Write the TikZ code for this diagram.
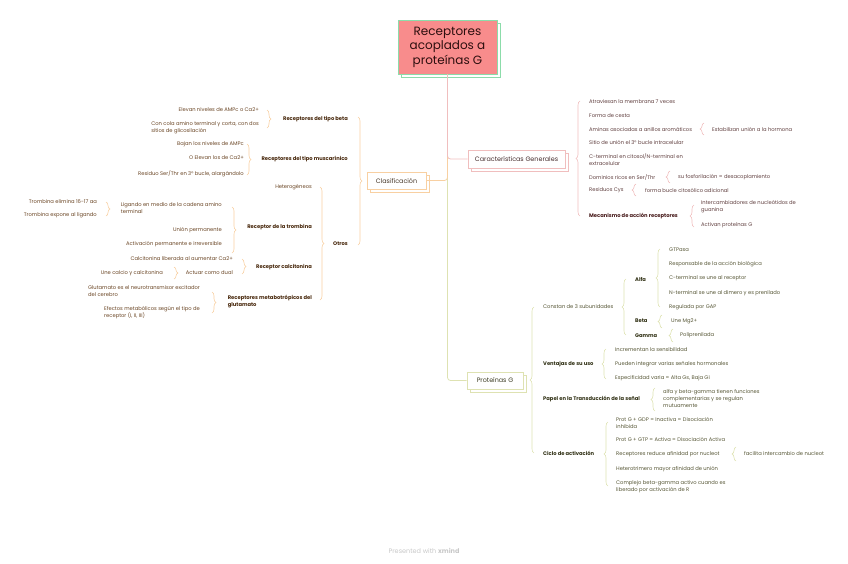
\documentclass[tikz,border=0pt]{standalone}
\usepackage{fontspec}
\setmainfont{Poppins}
\usetikzlibrary{decorations.pathreplacing}
\definecolor{orbr}{RGB}{248,208,162}
\definecolor{pkbr}{RGB}{240,190,190}
\definecolor{olbr}{RGB}{222,226,178}
\definecolor{ortx}{RGB}{105,68,35}
\definecolor{orbd}{RGB}{70,38,10}
\definecolor{pktx}{RGB}{95,62,62}
\definecolor{pkbd}{RGB}{70,25,25}
\definecolor{oltx}{RGB}{85,85,52}
\definecolor{olbd}{RGB}{48,48,20}
\definecolor{rootfill}{RGB}{248,140,140}
\definecolor{rootline}{RGB}{140,220,170}
\definecolor{wmgray}{RGB}{200,200,200}
\newcommand{\bracer}[5]{%
  \coordinate (#1t) at (#2,#3); \coordinate (#1b) at (#2,#4);
  \draw[#5, line width=0.6pt, decorate, decoration={brace,amplitude=4pt}] (#1t) -- (#1b);}
\newcommand{\bracel}[5]{%
  \coordinate (#1t) at (#2,#3); \coordinate (#1b) at (#2,#4);
  \draw[#5, line width=0.6pt, decorate, decoration={brace,amplitude=4pt}] (#1b) -- (#1t);}
\tikzset{
  txt/.style={inner sep=0pt, font=\fontsize{5.2}{7}\selectfont, align=left},
  ort/.style={txt, anchor=east, text=ortx},
  orb/.style={txt, anchor=east, text=orbd, font=\fontsize{5.2}{7}\selectfont\bfseries},
  pkt/.style={txt, anchor=west, text=pktx},
  pkb/.style={txt, anchor=west, text=pkbd, font=\fontsize{5.2}{7}\selectfont\bfseries},
  olt/.style={txt, anchor=west, text=oltx},
  olb/.style={txt, anchor=west, text=olbd, font=\fontsize{5.2}{7}\selectfont\bfseries},
  mainbox/.style={draw, line width=0.8pt, fill=white, inner sep=0pt, font=\fontsize{6.4}{8}\selectfont},
}
\begin{document}
\begin{tikzpicture}[x=1pt,y=-1pt]
\useasboundingbox (0,0) rectangle (848,563);
% root
\draw[rootline, line width=0.8pt, fill=white] (401,23) rectangle (500,77);
\node[draw=rootline, line width=0.8pt, fill=rootfill, minimum width=99pt, minimum height=54pt, inner sep=0pt,
  align=center, text={rgb,255:red,45;green,15;blue,15}, font=\fontsize{12}{14.5}\selectfont] (root) at (447.5,47)
  {Receptores\\acoplados a\\proteínas G};
% main boxes
\draw[orbr, line width=0.8pt, fill=white] (370,175) rectangle (429,192);
\node[mainbox, draw=orbr, minimum width=59pt, minimum height=17pt, text={rgb,255:red,70;green,55;blue,40}] (cla) at (396.5,180.5) {Clasificación};
\draw[pkbr, line width=0.8pt, fill=white] (471,153) rectangle (568,171);
\node[mainbox, draw=pkbr, minimum width=97pt, minimum height=18pt, text={rgb,255:red,70;green,45;blue,45}] (car) at (516.5,159) {Características Generales};
\draw[olbr, line width=0.8pt, fill=white] (470,375) rectangle (526,392);
\node[mainbox, draw=olbr, minimum width=56pt, minimum height=17pt, text={rgb,255:red,60;green,60;blue,35}] (pro) at (495,380.5) {Proteínas G};
% branches
\draw[olbr, line width=0.8pt, rounded corners=3pt] (root.south) |- (pro.west);
\draw[orbr, line width=0.8pt, rounded corners=3pt] (root.south) |- (cla.east);
\draw[pkbr, line width=0.8pt, rounded corners=3pt] (root.south) |- (car.west);

% ---------------- left side ----------------
\bracer{bcla}{358}{117}{245}{orbr}
\node[orb] (beta) at (348,119) {Receptores del tipo beta};
\node[orb] (musc) at (348,159) {Receptores del tipo muscarínico};
\node[orb] (otros) at (348,244) {Otros};

\bracer{bbeta}{267}{110}{128}{orbr}
\node[ort] (b1) at (259,110) {Elevan niveles de AMPc o Ca2+};
\node[ort] (b2) at (259,127.5) {Con cola amino terminal y corta, con dos\\sitios de glicosilación};

\bracer{bmusc}{247}{144}{175}{orbr}
\node[ort] (m1) at (244,144) {Bajan los niveles de AMPc};
\node[ort] (m2) at (244,158) {O Elevan los de Ca2+};
\node[ort] (m3) at (244,174) {Residuo Ser/Thr en 3° bucle, alargándolo};

\bracer{botros}{320}{187}{300}{orbr}
\node[ort] (het) at (312,187) {Heterogéneos};
\node[orb] (trom) at (312,227) {Receptor de la trombina};
\node[orb] (calc) at (312,267) {Receptor calcitonina};
\node[orb] (metab) at (312,302) {Receptores metabotrópicos del\\glutamato};

\bracer{btrom}{232}{207}{253}{orbr}
\node[ort] (t1) at (222,208.5) {Ligando en medio de la cadena amino\\terminal};
\node[ort] (t2) at (222,230) {Unión permanente};
\node[ort] (t3) at (222,244) {Activación permanente e irreversible};

\bracer{blig}{106}{202}{216}{orbr}
\node[ort] (l1) at (97,202) {Trombina elimina 16-17 aa};
\node[ort] (l2) at (97,215) {Trombina expone al ligando};

\bracer{bcalc}{242}{259}{274}{orbr}
\node[ort] (c1) at (233,259) {Calcitonina liberada al aumentar Ca2+};
\node[ort] (c2) at (233,273) {Actuar como dual};
\bracer{bact}{174}{267}{279}{orbr}
\node[ort] (c3) at (163,273) {Une calcio y calcitonina};

\bracer{bmet}{212}{292}{313}{orbr}
\node[ort] (g1) at (200,291) {Glutamato es el neurotransmisor excitador\\del cerebro};
\node[ort] (g2) at (200,312.5) {Efectos metabólicos según el tipo de\\receptor (I, II, III)};

% ---------------- right top ----------------
\bracel{bcar}{580}{101}{216}{pkbr}
\node[pkt] (p1) at (589,102) {Atraviesan la membrana 7 veces};
\node[pkt] (p2) at (589,115.5) {Forma de cesta};
\node[pkt] (p3) at (589,129) {Aminas asociadas a anillos aromáticos};
\node[pkt] (p4) at (589,142.5) {Sitio de unión el 3° bucle intracelular};
\node[pkt] (p5) at (589,160) {C-terminal en citosol/N-terminal en\\extracelular};
\node[pkt] (p6) at (589,177) {Dominios ricos en Ser/Thr};
\node[pkt] (p7) at (589,190) {Residuos Cys};
\node[pkb] (p8) at (589,216) {Mecanismo de acción receptores};

\bracel{bami}{704}{123}{135}{pkbr}
\node[pkt] (p3a) at (712,129) {Estabilizan unión a la hormona};
\bracel{bdom}{670}{171}{183}{pkbr}
\node[pkt] (p6a) at (678,177) {su fosforilación = desacoplamiento};
\bracel{bcys}{636}{184}{196}{pkbr}
\node[pkt] (p7a) at (645,190) {forma bucle citosólico adicional};
\bracel{bmec}{694}{205}{227}{pkbr}
\node[pkt] (p8a) at (701,207) {Intercambiadores de nucleótidos de\\guanina};
\node[pkt] (p8b) at (701,225) {Activan proteínas G};

% ---------------- right bottom ----------------
\bracel{bpro}{534}{307}{453}{olbr}
\node[olt] (q1) at (543,307) {Constan de 3 subunidades};
\node[olb] (q2) at (543,364) {Ventajas de su uso};
\node[olb] (q3) at (543,399) {Papel en la Transducción de la señal};
\node[olb] (q4) at (543,453) {Ciclo de activación};

\bracel{bcon}{626}{279}{335}{olbr}
\node[olb] (alfa) at (635,279) {Alfa};
\node[olb] (betag) at (635,321) {Beta};
\node[olb] (gamma) at (635,335.5) {Gamma};

\bracel{balfa}{660}{249}{307}{olbr}
\node[olt] (a1) at (669,250) {GTPasa};
\node[olt] (a2) at (669,264) {Responsable de la acción biológica};
\node[olt] (a3) at (669,278.5) {C-terminal se une al receptor};
\node[olt] (a4) at (669,293) {N-terminal se une al dimero y es prenilado};
\node[olt] (a5) at (669,307) {Regulada por GAP};
\bracel{bbet}{662}{315}{328}{olbr}
\node[olt] (bb1) at (671,321) {Une Mg2+};
\bracel{bgam}{673}{329}{342}{olbr}
\node[olt] (gg1) at (680,335.5) {Poliprenilada};

\bracel{bven}{606}{349}{379}{olbr}
\node[olt] (v1) at (615,350) {Incrementan la sensibilidad};
\node[olt] (v2) at (615,364) {Pueden integrar varias señales hormonales};
\node[olt] (v3) at (615,378) {Especificidad varia = Alta Gs, Baja Gi};

\bracel{bpap}{655}{388}{411}{olbr}
\node[olt] (pp1) at (663,399) {alfa y beta-gamma tienen funciones\\complementarias y se regulan\\mutuamente};

\bracel{bcic}{608}{422}{486}{olbr}
\node[olt] (k1) at (616,422.5) {Prot G + GDP = Inactiva = Disociación\\inhibida};
\node[olt] (k2) at (616,439) {Prot G + GTP = Activa = Disociación Activa};
\node[olt] (k3) at (616,454) {Receptores reduce afinidad por nucleot};
\node[olt] (k4) at (616,469) {Heterotrimero mayor afinidad de unión};
\node[olt] (k5) at (616,486.5) {Complejo beta-gamma activo cuando es\\liberado por activación de R};
\bracel{brec}{736}{447}{461}{olbr}
\node[olt] (k3a) at (744,454) {facilita intercambio de nucleot};

% watermark
\node[inner sep=0pt, text=wmgray, font=\fontsize{6.5}{8}\selectfont] (wm) at (424,551) {Presented with \textbf{xmind}};
\end{tikzpicture}
\end{document}
